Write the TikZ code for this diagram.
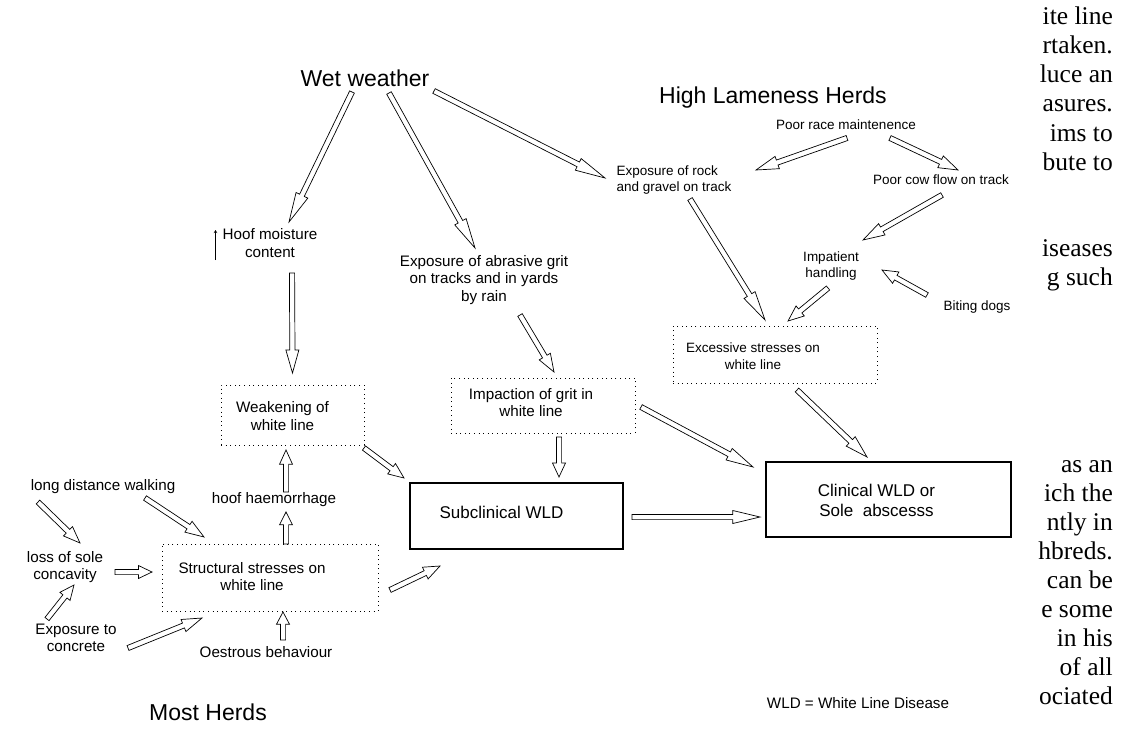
\documentclass[tikz,border=0pt]{standalone}
\usepackage{fontspec}
\setmainfont{Liberation Sans}
\newfontfamily\pageserif{Liberation Serif}
\usetikzlibrary{calc,arrows.meta}
\tikzset{every node/.style={inner sep=0pt,align=center},
	headline/.style={font=\fontsize{23}{27}\selectfont},
	cause/.style={font=\fontsize{13.5}{16.5}\selectfont},
	causebig/.style={font=\fontsize{15.2}{17.5}\selectfont},
	wldtext/.style={font=\fontsize{17}{20}\selectfont},
	pagetext/.style={font=\pageserif\fontsize{25.5}{29}\selectfont,anchor=base east},
	dotbox/.style={draw,line width=0.8pt,dash pattern=on 1pt off 3.6pt},
	wldbox/.style={draw,line width=1.4pt},
	fatline/.style={line width=0.7pt,line join=miter}}
% hollow block arrow from #1 to #2, head grows with the length
\newcommand{\fatarrow}[2]{%
	\path let \p1=(#1), \p2=(#2) in
	\pgfextra{\pgfmathsetmacro{\faang}{atan2(\y2-\y1,\x2-\x1)}%
		\pgfmathsetmacro{\falen}{veclen(\x2-\x1,\y2-\y1)}%
		\pgfmathsetmacro{\fahead}{min(30,8+0.15*\falen)}%
		\xdef\faang{\faang}\xdef\falen{\falen}\xdef\fahead{\fahead}};
	\draw[fatline,shift={(#1)},rotate=\faang] (0,2.6) -- (\falen-\fahead,2.6)
	-- (\falen-\fahead,6.5) -- (\falen,0) -- (\falen-\fahead,-6.5)
	-- (\falen-\fahead,-2.6) -- (0,-2.6) -- cycle}

\begin{document}
\begin{tikzpicture}[x=1pt,y=-1pt]
	\useasboundingbox (0,0) rectangle (1123,749);
	
	% headings
	\node[headline] (wet) at (365,78) {Wet weather};
	\node[headline] (hlh) at (773,98) {High Lameness Herds};
	\node[headline] (most) at (208,712) {Most Herds};
	\node[causebig] (legend) at (858,703) {WLD = White Line Disease};
	
	% high lameness side
	\node[cause] (race) at (846,125) {Poor race maintenence};
	\node[cause,align=left] (rock) at (674,180) {Exposure of rock\\and gravel on track};
	\node[cause] (cowflow) at (941,180) {Poor cow flow on track};
	\node[cause] (handle) at (831,266) {Impatient\\handling};
	\node[cause] (dogs) at (977,307) {Biting dogs};
	\node[dotbox,minimum width=204,minimum height=57] (excess) at (775,354.5) {};
	\node[cause] (excess-t) at ($(excess)+(-22,1.5)$) {Excessive stresses on\\white line};
	
	% wet weather side
	\node[causebig] (moist) at (270,243) {Hoof moisture\\content};
	\draw[line width=1.3pt,-{Stealth[length=3pt,width=3.5pt]}] ($(moist.west)+(-7,17)$) -- ($(moist.west)+(-7,-13)$);
	\node[causebig] (grit) at (484,280) {Exposure of abrasive grit\\on tracks and in yards\\by rain};
	\node[dotbox,minimum width=143,minimum height=60] (weak) at (292.5,415) {};
	\node[causebig] (weak-t) at ($(weak)+(-10,1)$) {Weakening of\\white line};
	\node[dotbox,minimum width=184,minimum height=55] (impact) at (543,405.5) {};
	\node[causebig] (impact-t) at ($(impact)+(-12,-3)$) {Impaction of grit in\\white line};
	
	% most herds side
	\node[causebig] (walk) at (103,487) {long distance walking};
	\node[causebig] (haem) at (274,500) {hoof haemorrhage};
	\node[causebig] (sole) at (65,567) {loss of sole\\concavity};
	\node[dotbox,minimum width=216,minimum height=67] (struct) at (270,577.5) {};
	\node[causebig] (struct-t) at ($(struct)+(-18,-1)$) {Structural stresses on\\white line};
	\node[causebig] (concrete) at (76,638) {Exposure to\\concrete};
	\node[causebig] (oestrus) at (266,652) {Oestrous behaviour};
	
	% white line disease
	\node[wldbox,minimum width=213,minimum height=66] (subcl) at (516.5,516) {};
	\node[wldtext] (subcl-t) at ($(subcl)+(-15,-4)$) {Subclinical WLD};
	\node[wldbox,minimum width=245,minimum height=75] (clin) at (888.5,499.5) {};
	\node[wldtext] (clin-t) at ($(clin)+(-12,0.5)$) {Clinical WLD or\\Sole\ \ abscesss};
	
	\fatarrow{$(wet)+(-13,14)$}{$(moist)+(19,-21)$};
	\fatarrow{$(wet)+(24,15)$}{$(grit)+(-9,-32)$};
	\fatarrow{$(wet)+(69,13)$}{$(rock)+(-69,-2)$};
	\fatarrow{$(race)+(1,13)$}{$(rock)+(82,-10)$};
	\fatarrow{$(race)+(44,13)$}{$(cowflow)+(17,-10)$};
	\fatarrow{$(cowflow)+(1,15)$}{$(handle)+(32,-26)$};
	\fatarrow{$(rock)+(16,19)$}{$(excess)+(-10,-34.5)$};
	\fatarrow{$(handle)+(-3,22)$}{$(excess)+(13,-33.5)$};
	\fatarrow{$(dogs)+(-50,-12)$}{$(handle)+(51,4)$};
	\fatarrow{$(moist)+(22,30)$}{$(weak)+(0,-42)$};
	\fatarrow{$(grit)+(36,35)$}{$(impact)+(11,-33.5)$};
	\fatarrow{$(weak)+(71.5,33)$}{$(subcl)+(-112.5,-38)$};
	\fatarrow{$(impact)+(16,31.5)$}{$(subcl)+(42.5,-39)$};
	\fatarrow{$(impact)+(98,1.5)$}{$(clin)+(-135.5,-32.5)$};
	\fatarrow{$(excess)+(22,35.5)$}{$(clin)+(-21.5,-42.5)$};
	\fatarrow{$(subcl)+(115.5,1)$}{$(clin)+(-128.5,17.5)$};
	\fatarrow{$(haem)+(12,-8)$}{$(weak)+(-6.5,35)$};
	\fatarrow{$(struct)+(16,-33.5)$}{$(haem)+(12,12)$};
	\fatarrow{$(walk)+(-65,15)$}{$(sole)+(15,-24)$};
	\fatarrow{$(walk)+(42,11)$}{$(struct)+(-66,-40.5)$};
	\fatarrow{$(sole)+(50,5)$}{$(struct)+(-118,-5.5)$};
	\fatarrow{$(concrete)+(-29,-19)$}{$(sole)+(9,18)$};
	\fatarrow{$(concrete)+(52,10)$}{$(struct)+(-68,40.5)$};
	\fatarrow{$(oestrus)+(17,-12)$}{$(struct)+(13,34.5)$};
	\fatarrow{$(struct)+(120,12.5)$}{$(subcl)+(-76.5,50)$};
	
	% page text cut off at the right
	\foreach \yy/\frag in {25/ite line,54/rtaken.,83/luce an,112/asures.,141/ims to,170/bute to,
		256/iseases,285/g such,472/as an,501/ich the,530/ntly in,559/hbreds.,588/can be,
		617/e some,646/in his,675/of all,704/ociated}
	\node[pagetext] (page-\yy) at (1113,\yy) {\frag};
\end{tikzpicture}
\end{document}
